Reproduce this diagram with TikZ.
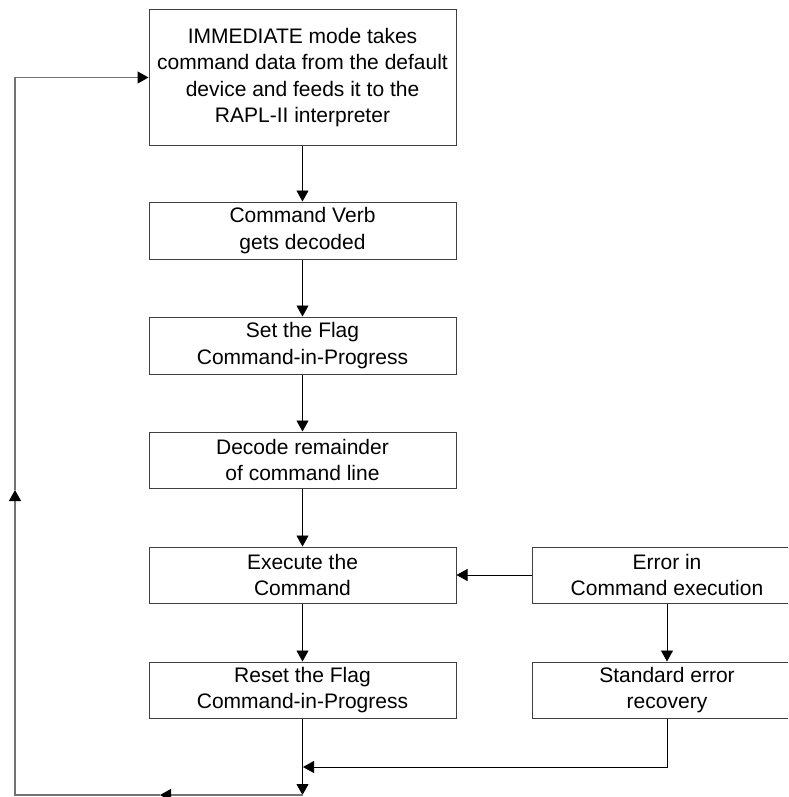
\documentclass[tikz,border=0pt]{standalone}
\usepackage{fontspec}
\setmainfont{Liberation Sans}
\usetikzlibrary{arrows.meta}
\begin{document}
\begin{tikzpicture}[x=1pt,y=-1pt,
  box/.style={draw=black!75,line width=1pt,inner sep=0pt,minimum width=307pt,minimum height=56pt,align=center,
    font=\fontsize{21}{26.5}\selectfont},
  rbox/.style={box,minimum width=270pt},
  arr/.style={draw=black,line width=0.9pt,-{Triangle[length=11pt,width=12pt]}},
  fb/.style={draw=black!55,line width=1.2pt},
  fbarr/.style={fb,-{Triangle[length=11pt,width=12pt,fill=black,color=black]}}]
\useasboundingbox (0,0) rectangle (788,797);
\begin{scope}
\clip (0,0) rectangle (788,797);
\node[box,minimum height=135pt] (top) at (302.5,77.5) {IMMEDIATE mode takes\\command data from the default\\device and feeds it to the\\RAPL-II interpreter};
\node[box,minimum height=57pt] (b2) at (302.5,230.5) {Command Verb\\gets decoded};
\node[box,minimum height=57pt] (b3) at (302.5,345.5) {Set the Flag\\Command-in-Progress};
\node[box] (b4) at (302.5,460) {Decode remainder\\of command line};
\node[box] (b5) at (302.5,575) {Execute the\\Command};
\node[box] (b6) at (302.5,690) {Reset the Flag\\Command-in-Progress};
\node[rbox] (err) at (667,575) {Error in\\Command execution};
\node[rbox] (std) at (667,690) {Standard error\\recovery};
\end{scope}
\coordinate (j) at (303,767);
\coordinate (bot) at (302.5,795);
\coordinate (mid) at (160,795);
\coordinate (bl) at (15,795);
\coordinate (lt) at (15,490);
\coordinate (tl) at (15,77.5);
\draw[arr] (top) -- (b2);
\draw[arr] (b2) -- (b3);
\draw[arr] (b3) -- (b4);
\draw[arr] (b4) -- (b5);
\draw[arr] (b5) -- (b6);
\draw[arr] (err) -- (b5);
\draw[arr] (err) -- (std);
\draw[arr] (std.south) |- (j);
\draw[arr] (b6.south) -- (bot);
\draw[fbarr] (bot) -- (mid);
\draw[fbarr] (mid) -- (bl) -- (lt);
\draw[fbarr] (lt) -- (tl) -- (top.west);
\end{tikzpicture}
\end{document}
